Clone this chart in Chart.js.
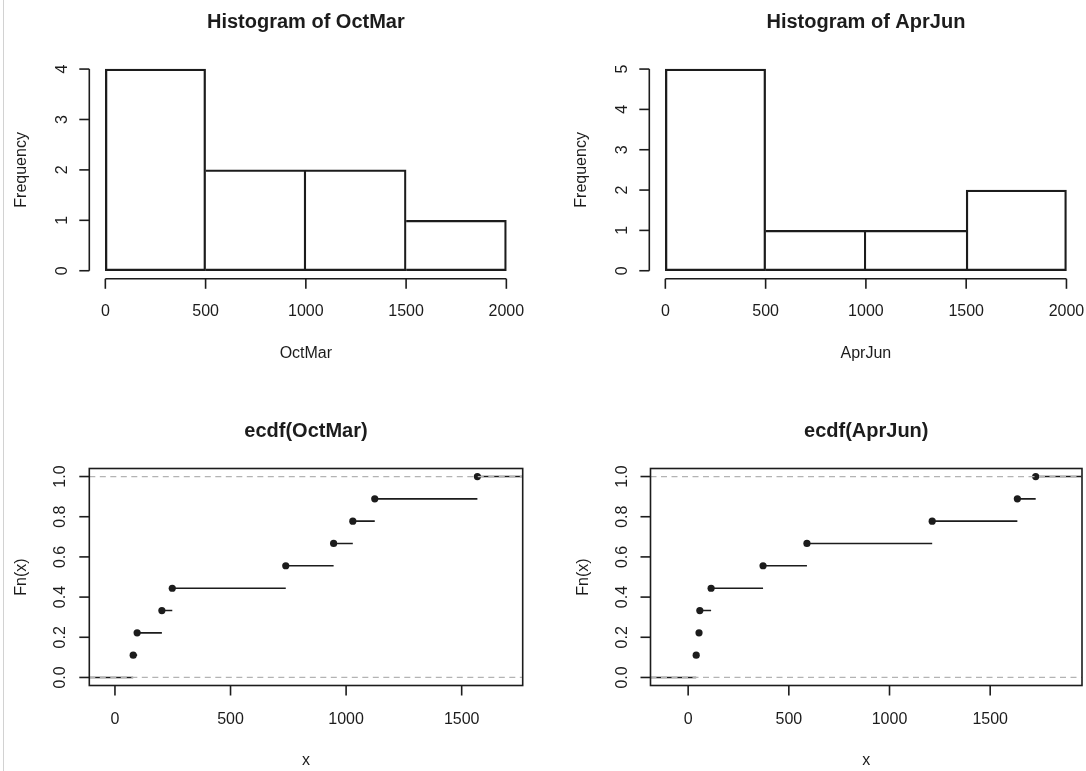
<!DOCTYPE html>
<html>
<head>
<meta charset="utf-8">
<script src="https://cdn.jsdelivr.net/npm/chart.js@4.4.1/dist/chart.umd.min.js"></script>
<style>
html, body { margin: 0; padding: 0; background: #ffffff; }
#wrap { position: relative; width: 1086px; height: 771px; overflow: hidden; background: #ffffff; }
#wrap canvas { position: absolute; left: 0; top: 0; }
#edge { position: absolute; left: 3px; top: 0; width: 1px; height: 771px; background: #d2d2d2; }
</style>
</head>
<body>
<div id="wrap">
  <div id="edge"></div>
  <canvas id="cHistOct" width="1086" height="771"></canvas>
  <canvas id="cHistApr" width="1086" height="771"></canvas>
  <canvas id="cEcdfOct" width="1086" height="771"></canvas>
  <canvas id="cEcdfApr" width="1086" height="771"></canvas>
</div>
<script>
// ---------------- data ----------------
const binEdges = [0, 500, 1000, 1500, 2000];
const octMarCounts = [4, 2, 2, 1];
const aprJunCounts = [5, 1, 1, 2];

const octMarKnots = [79, 96, 203, 248, 739, 946, 1029, 1124, 1568];
const aprJunKnots = [40, 54, 58, 114, 372, 590, 1212, 1635, 1726];
const ecdfLevels = [0.111, 0.222, 0.333, 0.444, 0.556, 0.667, 0.778, 0.889, 1.0];

// tick labels
const histXTicks = [0, 500, 1000, 1500, 2000];
const octMarFreqTicks = [0, 1, 2, 3, 4];
const aprJunFreqTicks = [0, 1, 2, 3, 4, 5];
const ecdfXTicks = [0, 500, 1000, 1500];
const ecdfYTicks = [0.0, 0.2, 0.4, 0.6, 0.8, 1.0];

// ---------------- style ----------------
const INK = '#1c1c1c';
const LW = 1.6;
const FONT = '"Liberation Sans", Arial, Helvetica, sans-serif';
Chart.defaults.font.family = FONT;

function line(ctx, x1, y1, x2, y2) {
  ctx.beginPath(); ctx.moveTo(x1, y1); ctx.lineTo(x2, y2); ctx.stroke();
}
function vtext(ctx, txt, x, y) {
  ctx.save(); ctx.translate(x, y); ctx.rotate(-Math.PI / 2);
  ctx.textAlign = 'center'; ctx.textBaseline = 'alphabetic';
  ctx.fillText(txt, 0, 0); ctx.restore();
}

// R-style axes / box / titles drawn from the chart's own scales
const rStyle = {
  id: 'rStyle',
  afterDraw(chart, args, o) {
    const ctx = chart.ctx, a = chart.chartArea;
    const x = chart.scales.x, y = chart.scales.y;
    const xt = x.ticks.map(t => t.value), yt = y.ticks.map(t => t.value);
    ctx.save();
    ctx.strokeStyle = INK; ctx.fillStyle = INK; ctx.lineWidth = LW; ctx.lineCap = 'butt';
    if (o.kind === 'ecdf') {
      ctx.save();
      ctx.strokeStyle = '#b3b3b3'; ctx.lineWidth = 1.3; ctx.setLineDash([6, 4.5]);
      [0, 1].forEach(v => { const py = y.getPixelForValue(v); line(ctx, a.left, py, a.right, py); });
      ctx.restore();
      ctx.strokeRect(a.left, a.top, a.right - a.left, a.bottom - a.top);
    } else {
      line(ctx, a.left, y.getPixelForValue(yt[0]), a.left, y.getPixelForValue(yt[yt.length - 1]));
      line(ctx, x.getPixelForValue(xt[0]), a.bottom, x.getPixelForValue(xt[xt.length - 1]), a.bottom);
    }
    const tl = 10;
    ctx.font = '16px ' + FONT;
    ctx.textAlign = 'center'; ctx.textBaseline = 'alphabetic';
    xt.forEach(v => {
      const px = x.getPixelForValue(v);
      line(ctx, px, a.bottom, px, a.bottom + tl);
      ctx.fillText(String(v), px, a.bottom + o.xLabOff);
    });
    yt.forEach(v => {
      const py = y.getPixelForValue(v);
      line(ctx, a.left, py, a.left - tl, py);
      vtext(ctx, o.yFmt(v), a.left - o.yLabOff, py);
    });
    const cx = (a.left + a.right) / 2, cy = (a.top + a.bottom) / 2;
    ctx.fillText(o.xTitle, cx, a.bottom + o.xTitleOff);
    vtext(ctx, o.yTitle, a.left - 63, cy);
    ctx.font = 'bold 20px ' + FONT;
    ctx.fillText(o.title, cx, a.top + o.titleOff);
    ctx.restore();
  }
};

function pad(l, t, r, b) {
  return { left: l, top: t, right: 1086 - r, bottom: 771 - b };
}
function setTicks(arr) {
  return s => { s.ticks = arr.map(v => ({ value: v })); };
}

function histChart(id, counts, freqTicks, ymin, ymax, area, title, xTitle) {
  const data = counts.map((c, i) => ({ x: (binEdges[i] + binEdges[i + 1]) / 2, y: c }));
  const last = counts.length - 1;
  return new Chart(document.getElementById(id), {
    type: 'bar',
    data: { datasets: [{
      data: data,
      backgroundColor: 'rgba(255,255,255,0)',
      borderColor: INK,
      borderSkipped: false,
      borderWidth: ctx => {
        const i = ctx.dataIndex;
        const left = (i === 0 || counts[i] > counts[i - 1]) ? LW : 0;
        const right = (i === last || counts[i] >= counts[i + 1]) ? LW : 0;
        return { top: LW, bottom: LW, left: left, right: right };
      },
      barPercentage: 1.0,
      categoryPercentage: 1.0
    }]},
    options: {
      responsive: false, animation: false, devicePixelRatio: 1,
      layout: { padding: pad(area[0], area[1], area[2], area[3]) },
      scales: {
        x: { type: 'linear', offset: false, min: -80, max: 2080, display: false, afterBuildTicks: setTicks(histXTicks) },
        y: { type: 'linear', min: ymin, max: ymax, display: false, afterBuildTicks: setTicks(freqTicks) }
      },
      plugins: {
        legend: { display: false }, tooltip: { enabled: false },
        rStyle: { kind: 'hist', title: title, xTitle: xTitle, yTitle: 'Frequency',
                  yFmt: v => String(v), xLabOff: 37.2, yLabOff: 22.6, xTitleOff: 79.2, titleOff: -33.5 }
      }
    },
    plugins: [rStyle]
  });
}

function ecdfChart(id, knots, xmin, xmax, area, title) {
  const segs = [];
  segs.push({ x: xmin, y: 0 }, { x: knots[0], y: 0 }, { x: knots[0], y: null });
  knots.forEach((k, i) => {
    const right = i < knots.length - 1 ? knots[i + 1] : xmax;
    segs.push({ x: k, y: ecdfLevels[i] }, { x: right, y: ecdfLevels[i] }, { x: right, y: null });
  });
  const pts = knots.map((k, i) => ({ x: k, y: ecdfLevels[i] }));
  return new Chart(document.getElementById(id), {
    type: 'scatter',
    data: { datasets: [
      { data: segs, showLine: true, spanGaps: false, borderColor: INK, borderWidth: LW,
        pointRadius: 0, fill: false },
      { data: pts, showLine: false, pointRadius: 3.6, pointBackgroundColor: INK,
        pointBorderWidth: 0, pointBorderColor: INK }
    ]},
    options: {
      responsive: false, animation: false, devicePixelRatio: 1,
      layout: { padding: pad(area[0], area[1], area[2], area[3]) },
      scales: {
        x: { type: 'linear', min: xmin, max: xmax, display: false, afterBuildTicks: setTicks(ecdfXTicks) },
        y: { type: 'linear', min: -0.04, max: 1.04, display: false, afterBuildTicks: setTicks(ecdfYTicks) }
      },
      plugins: {
        legend: { display: false }, tooltip: { enabled: false },
        rStyle: { kind: 'ecdf', title: title, xTitle: 'x', yTitle: 'Fn(x)',
                  yFmt: v => v.toFixed(1), xLabOff: 38.5, yLabOff: 24, xTitleOff: 79.5, titleOff: -31.5 }
      }
    },
    plugins: [rStyle]
  });
}

histChart('cHistOct', octMarCounts, octMarFreqTicks, -0.16, 4.16, [89.3, 61, 522.4, 278.8], 'Histogram of OctMar', 'OctMar');
histChart('cHistApr', aprJunCounts, aprJunFreqTicks, -0.2, 5.2, [649.3, 61, 1082.5, 278.8], 'Histogram of AprJun', 'AprJun');
ecdfChart('cEcdfOct', octMarKnots, -111, 1764, [89.3, 468.5, 522.7, 685.5], 'ecdf(OctMar)');
ecdfChart('cEcdfApr', aprJunKnots, -187, 1956, [650.5, 468.5, 1082.7, 685.5], 'ecdf(AprJun)');
</script>
</body>
</html>
